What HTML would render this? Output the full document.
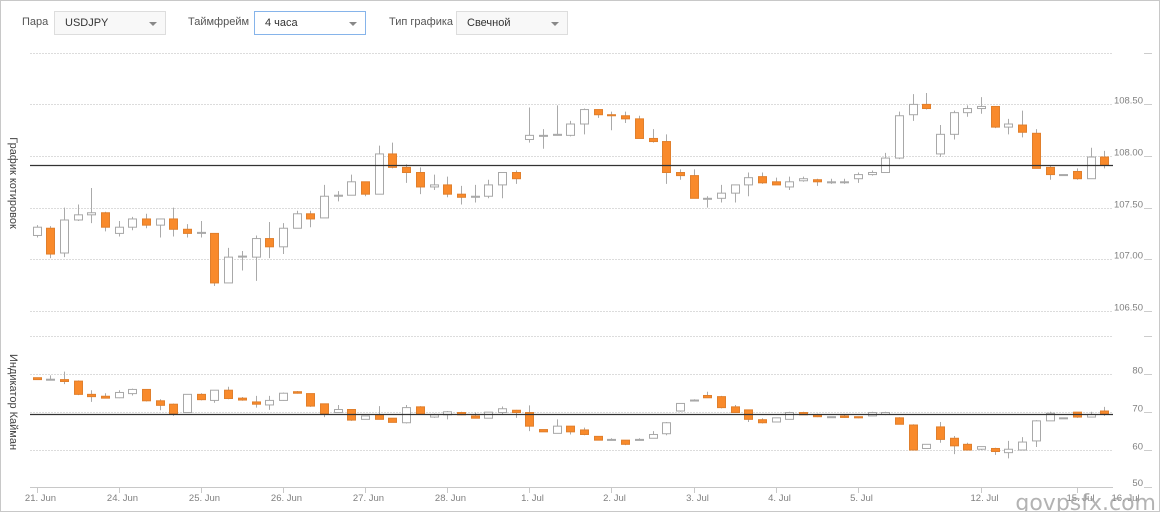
<!DOCTYPE html>
<html><head><meta charset="utf-8">
<style>
html,body{margin:0;padding:0;background:#fff;}
#frame{position:relative;width:1158px;height:510px;border:1px solid #c8c8c8;overflow:hidden;font-family:"Liberation Sans",sans-serif;}
.lbl{position:absolute;top:15px;font-size:11px;color:#555;}
.sel{position:absolute;top:10px;height:24px;width:112px;border:1px solid #ddd;background:#f8f8f8;box-sizing:border-box;font-size:11px;color:#333;line-height:22px;padding-left:10px;}
.sel.active{border:1px solid #86b4ea;background:#fff;}
.arr{position:absolute;right:8px;top:10px;width:0;height:0;border-left:4px solid transparent;border-right:4px solid transparent;border-top:4px solid #888;}
svg{position:absolute;left:0;top:0;}
.ax{font-size:9.5px;fill:#808080;}
</style></head><body>
<div id="frame">
  <span class="lbl" style="left:21px">Пара</span>
  <div class="sel" style="left:53px">USDJPY<span class="arr"></span></div>
  <span class="lbl" style="left:187px">Таймфрейм</span>
  <div class="sel active" style="left:253px">4 часа<span class="arr"></span></div>
  <span class="lbl" style="left:388px">Тип графика</span>
  <div class="sel" style="left:455px">Свечной<span class="arr"></span></div>
  <svg id="chart" width="1160" height="512"></svg>
</div>
<script>
const topOpen=[107.23,107.30,107.06,107.38,107.43,107.45,107.25,107.31,107.39,107.33,107.39,107.29,107.25,107.25,106.77,107.03,107.02,107.20,107.12,107.30,107.44,107.40,107.61,107.62,107.75,107.63,108.02,107.89,107.84,107.70,107.72,107.63,107.60,107.61,107.72,107.84,108.16,108.20,108.20,108.20,108.31,108.45,108.40,108.39,108.36,108.17,108.14,107.84,107.81,107.59,107.59,107.64,107.72,107.80,107.75,107.70,107.76,107.77,107.74,107.75,107.78,107.82,107.84,107.98,108.40,108.50,108.02,108.21,108.42,108.46,108.48,108.28,108.30,108.22,107.89,107.82,107.85,107.78,107.99];
const topHigh=[107.33,107.32,107.50,107.53,107.69,107.46,107.37,107.41,107.44,107.39,107.50,107.34,107.37,107.25,107.11,107.08,107.23,107.36,107.35,107.47,107.47,107.72,107.66,107.82,107.75,108.10,108.13,107.92,107.89,107.82,107.80,107.71,107.72,107.77,107.84,107.86,108.47,108.26,108.49,108.34,108.46,108.45,108.43,108.43,108.39,108.26,108.21,107.87,107.87,107.61,107.72,107.72,107.84,107.84,107.79,107.80,107.80,107.78,107.78,107.78,107.84,107.86,108.03,108.43,108.60,108.61,108.30,108.44,108.49,108.57,108.48,108.36,108.44,108.26,107.91,107.82,107.88,108.08,108.05];
const topLow=[107.21,107.01,107.02,107.37,107.35,107.27,107.22,107.28,107.30,107.21,107.22,107.21,107.21,106.74,106.77,106.89,106.79,107.01,107.05,107.30,107.31,107.40,107.56,107.62,107.61,107.63,107.88,107.74,107.63,107.67,107.60,107.53,107.55,107.59,107.59,107.73,108.13,108.07,108.20,108.19,108.21,108.37,108.25,108.32,108.17,108.13,107.73,107.77,107.59,107.50,107.55,107.55,107.61,107.73,107.72,107.67,107.75,107.71,107.73,107.73,107.74,107.81,107.84,107.97,108.34,108.45,107.99,108.16,108.38,108.41,108.27,108.21,108.18,107.88,107.77,107.82,107.77,107.78,107.88];
const topClose=[107.31,107.05,107.38,107.43,107.45,107.31,107.31,107.39,107.33,107.39,107.29,107.25,107.26,106.77,107.02,107.03,107.20,107.12,107.30,107.44,107.39,107.61,107.62,107.75,107.63,108.02,107.89,107.84,107.70,107.72,107.63,107.60,107.61,107.72,107.84,107.78,108.20,108.20,108.21,108.31,108.45,108.40,108.39,108.36,108.17,108.14,107.84,107.81,107.59,107.59,107.64,107.72,107.79,107.74,107.72,107.75,107.78,107.75,107.75,107.75,107.82,107.84,107.98,108.39,108.50,108.46,108.21,108.42,108.46,108.48,108.28,108.31,108.23,107.88,107.82,107.82,107.78,107.99,107.91];

const botOpen=[79.1,78.7,78.6,78.2,74.7,74.2,73.8,74.9,76.0,73.0,72.1,69.9,74.7,73.1,75.8,73.7,72.7,71.9,73.1,75.4,74.9,72.2,69.9,70.7,68.1,69.3,68.4,67.2,71.4,68.7,69.3,69.9,69.0,68.4,69.9,70.5,69.9,65.4,64.4,66.3,65.3,63.6,62.8,62.6,62.8,63.1,64.3,70.3,73.2,74.4,74.1,71.4,70.6,68.0,67.4,68.1,69.9,69.3,68.8,69.0,68.8,69.0,69.4,68.5,66.6,60.4,66.1,63.1,61.5,60.2,60.4,59.3,60.0,62.4,67.7,68.5,70.0,68.7,70.3];
const botHigh=[79.1,79.7,80.7,78.4,75.8,75.0,75.8,76.2,76.0,73.4,72.3,74.7,75.0,75.8,76.7,74.0,74.3,74.3,75.2,75.6,74.9,72.2,71.9,70.7,69.0,71.6,68.4,71.9,71.6,69.6,70.3,70.1,69.9,70.0,71.5,70.6,71.8,65.4,68.1,66.3,65.9,63.6,63.1,62.6,63.1,65.0,67.4,72.3,73.4,75.4,74.3,71.9,70.6,68.4,68.5,70.1,70.1,69.6,68.8,69.3,68.8,70.1,70.1,68.7,66.8,61.5,67.4,63.7,61.9,60.9,60.6,62.4,63.4,67.9,70.1,68.5,70.0,70.1,71.4];
const botLow=[78.6,78.4,77.4,74.5,72.7,73.7,73.7,74.4,72.8,70.5,69.0,69.9,73.1,72.5,73.4,73.0,71.2,70.6,73.0,74.9,71.4,68.7,69.9,67.7,68.1,68.1,67.3,67.0,69.3,68.5,68.1,69.2,68.4,68.4,69.4,68.5,65.0,64.8,64.4,64.1,63.9,62.6,62.6,61.3,62.6,63.1,63.9,70.1,73.1,73.8,71.0,69.9,67.4,67.0,67.4,68.1,69.3,68.7,68.8,68.5,68.4,69.0,69.2,66.8,60.0,60.4,61.9,58.9,60.0,60.0,58.7,57.8,60.0,60.8,67.7,68.5,68.5,68.7,69.0];
const botClose=[78.6,78.7,78.1,74.7,74.1,73.7,75.2,76.0,73.0,71.8,69.6,74.7,73.3,75.8,73.6,73.2,72.1,73.1,75.0,75.0,71.6,69.6,70.7,67.9,69.0,68.1,67.3,71.2,69.4,69.3,70.1,69.3,68.4,70.0,70.9,69.9,66.3,64.8,66.3,64.8,64.1,62.6,62.8,61.5,62.8,64.1,67.2,72.3,73.2,73.8,71.2,69.9,68.1,67.2,68.5,69.9,69.3,68.8,68.8,68.6,68.5,69.9,69.9,66.8,60.0,61.5,62.8,61.1,60.0,60.9,59.6,60.2,62.1,67.7,69.7,68.5,68.7,69.4,69.5];

const topGrid=[109,108.5,108,107.5,107,106.5];
const topGridLabels=["","108.50","108.00","107.50","107.00","106.50"];
const botGrid=[90,80,70,60];
const botGridLabels=["","80","70","60"];
const tickIdx=[0,6,12,18,24,30,36,42,48,54,60,69,76,79.3];
const tickLabels=["21. Jun","24. Jun","25. Jun","26. Jun","27. Jun","28. Jun","1. Jul","2. Jul","3. Jul","4. Jul","5. Jul","12. Jul","15. Jul","16. Jul"];

const NS="http://www.w3.org/2000/svg";
const svg=document.getElementById('chart');
const X0=35.5, DX=13.69, PL=29, PR=1112;
function xIdx(i){return X0+i*DX;}
function yTop(v){return 155-(v-108)*103.2;}
function yBot(v){return 449-(v-60)*3.785;}
function mk(tag,attrs,parent){const e=document.createElementNS(NS,tag);for(const k in attrs)e.setAttribute(k,attrs[k]);(parent||svg).appendChild(e);return e;}

function grid(vals,labels,yf,name){
  vals.forEach((v,k)=>{
    const y=Math.round(yf(v))+0.5;
    const l=mk('line',{x1:PL,x2:PR,y1:y,y2:y,stroke:'#dcdcdc','stroke-dasharray':'2,1'});
    
    
    const t=mk('line',{x1:1143,x2:1151,y1:y,y2:y,stroke:'#ccc'});
    
    
    if(labels[k]){
      const tx=mk('text',{x:1142,y:y-1,'text-anchor':'end',class:'ax'});
      tx.textContent=labels[k];
      
      
    }
  });
}
grid(topGrid,topGridLabels,yTop,'price-axis');
grid(botGrid,botGridLabels,yBot,'indicator-axis');

const axl=mk('line',{x1:PL,x2:PR,y1:486.5,y2:486.5,stroke:'#c8c8c8'});


const t50=mk('text',{x:1142,y:485,'text-anchor':'end',class:'ax'});t50.textContent='50';


mk('line',{x1:1143,x2:1151,y1:486.5,y2:486.5,stroke:'#ccc'});
tickIdx.forEach((ti,k)=>{
  const x=Math.round(xIdx(ti))+0.5;
  if(x<PR){const tk=mk('line',{x1:x,x2:x,y1:486,y2:492,stroke:'#c8c8c8'});
  
  }
  const tx=mk('text',{x:x+3,y:500,'text-anchor':'middle',class:'ax','font-size':'9'});
  tx.textContent=tickLabels[k];
  
  
});

function candles(O,H,L,C,yf,name){
  for(let i=0;i<O.length;i++){
    const x=xIdx(i), up=C[i]>=O[i];
    const w=mk('line',{x1:Math.round(x)+0.5,x2:Math.round(x)+0.5,y1:yf(H[i]),y2:yf(L[i]),stroke:'#aaa','stroke-width':1});
    
    
    let y1=yf(Math.max(O[i],C[i])), y2=yf(Math.min(O[i],C[i]));
    let h=Math.max(y2-y1,1);
    const b=mk('rect',{x:Math.round(x)-3.5,y:y1,width:8,height:h,fill:up?'#fff':'#f98a2b',stroke:up?'#a8a8a8':'#e07f2c','stroke-width':1});
    
    
  }
  const lastY=Math.round(yf(C[C.length-1]))+0.5;
  const ln=mk('line',{x1:PL,x2:PR,y1:lastY,y2:lastY,stroke:'#333','stroke-width':1.2});
  
  
}
candles(topOpen,topHigh,topLow,topClose,yTop,'price');
candles(botOpen,botHigh,botLow,botClose,yBot,'indicator');

function vtitle(txt,cy,name){
  const t=mk('text',{x:0,y:0,transform:'translate(9,'+cy+') rotate(90)','text-anchor':'middle','font-size':'11',fill:'#444'});
  t.textContent=txt;
  
  
}
vtitle('График котировок',182,'price-axis-title');
vtitle('Индикатор Кайман',401,'indicator-axis-title');

const wm=mk('text',{x:1155,y:509,'text-anchor':'end','font-size':'22',fill:'#a0a0a0','fill-opacity':'0.8','font-family':'"DejaVu Sans",sans-serif'});
wm.textContent='govpsfx.com';


</script>
</body></html>
